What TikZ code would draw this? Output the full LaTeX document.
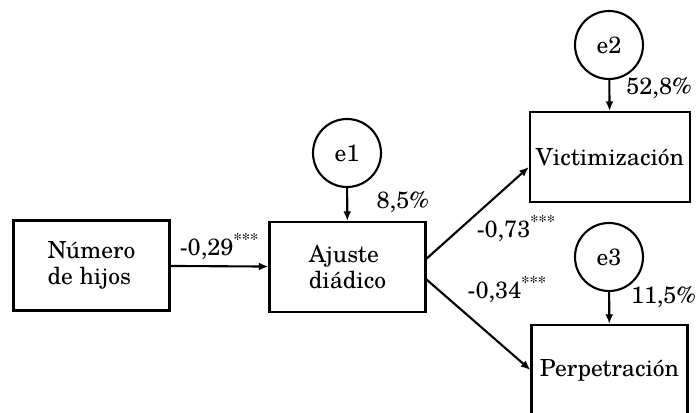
\documentclass[tikz,border=0pt]{standalone}
\usepackage{fontspec}
\setmainfont{TeX Gyre Schola}
\usetikzlibrary{arrows.meta}

\begin{document}
\begin{tikzpicture} [x=0.02cm, y=-0.02cm, >={Latex[length=5.5pt,width=4.5pt]}, line width=1.2pt, font=\fontsize{13.4}{15}\selectfont,
  var/.style={draw, rectangle, minimum width=3.12cm, minimum height=1.8cm, align=left},
  err/.style={draw, circle, minimum size=1.36cm, inner sep=0pt}]
\useasboundingbox (0,0) rectangle (698,413);
\node[var](hijos) at (91.5,265.5){Número\\de hijos};
\node[var](ajuste) at (347.5,267){Ajuste\\diádico};
\node[var](vict) at (610,157){Victimización};
\node[var](perp) at (609.5,370){Perpetración};
\node[err](e1) at (347,153){e1};
\node[err](e2) at (609,45){e2};
\node[err](e3) at (609,257){e3};
\draw [->](hijos) -- (ajuste) node[above, pos=.5]{-0,29\textsuperscript{***}};
\draw [->](ajuste.6) -- (vict.187) node[below right, pos=.48, inner sep=0pt]{-0,73\textsuperscript{***}};
\draw [->](ajuste.-9) -- (perp.west) node[above right, pos=.33]{-0,34\textsuperscript{***}};
\draw [->](e1) -- (ajuste) node[right=0.45cm, pos=.43]{8,5\%};
\draw [->](e2) -- (vict) node[right=0.2cm, pos=.27]{52,8\%};
\draw [->](e3) -- (perp) node[right=0.3cm, pos=.17]{11,5\%};
\end{tikzpicture}
\end{document}
